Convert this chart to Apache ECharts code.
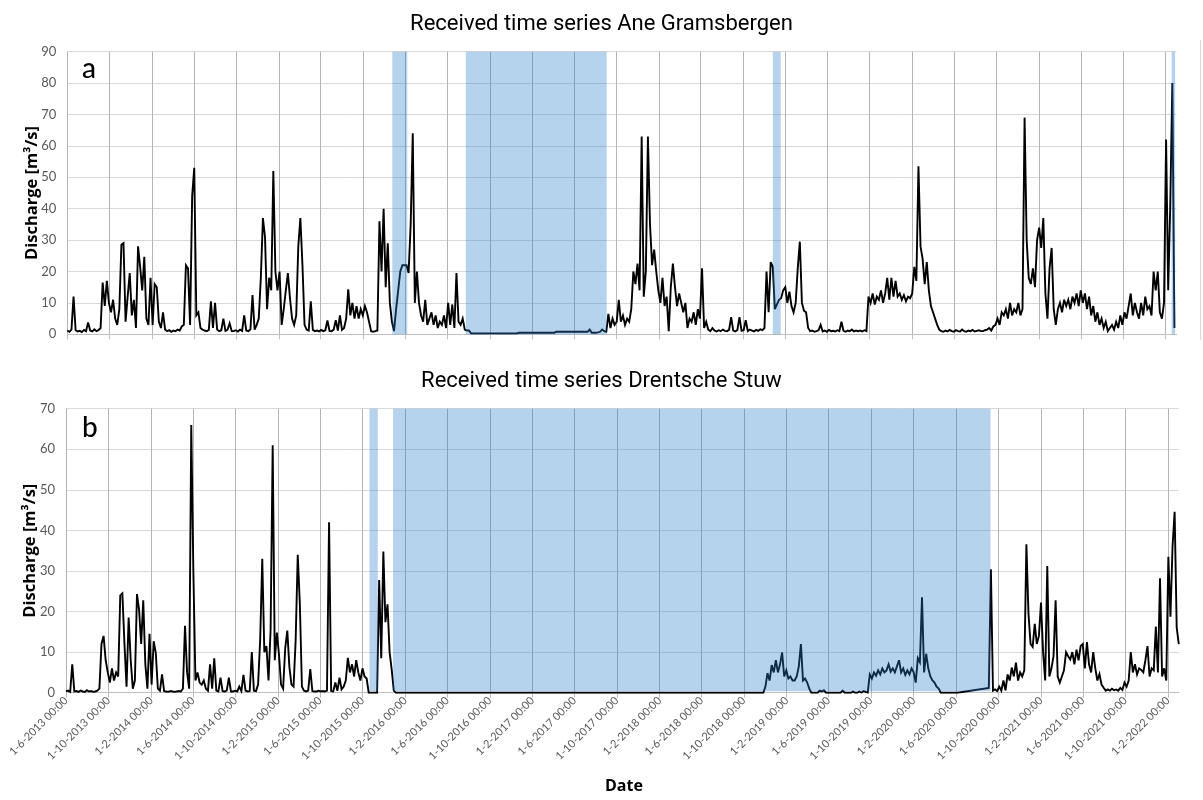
<!DOCTYPE html>
<html>
<head>
<meta charset="utf-8">
<script src="https://cdn.jsdelivr.net/npm/echarts@6/dist/echarts.min.js"></script>
<style>
  html, body { margin: 0; padding: 0; background: #fff; }
  #chart { width: 1203px; height: 800px; }
</style>
</head>
<body>
<div id="chart"></div>
<script>
// Panel titles and letters
const titles = ['Received time series Ane Gramsbergen', 'Received time series Drentsche Stuw'];
const panelLetters = ['a', 'b'];
const yName = 'Discharge [m³/s]';
const xName = 'Date';

// Time base of the received series: one value every 6 days
const startDate = '2013-06-01';
const endDate = '2022-03-04';
const stepDays = 6;

// Major date ticks (every 4 months)
const tickDates = [
  '2013-06-01', '2013-10-01', '2014-02-01', '2014-06-01', '2014-10-01', '2015-02-01',
  '2015-06-01', '2015-10-01', '2016-02-01', '2016-06-01', '2016-10-01', '2017-02-01',
  '2017-06-01', '2017-10-01', '2018-02-01', '2018-06-01', '2018-10-01', '2019-02-01',
  '2019-06-01', '2019-10-01', '2020-02-01', '2020-06-01', '2020-10-01', '2021-02-01',
  '2021-06-01', '2021-10-01', '2022-02-01'
];

// Discharge Ane Gramsbergen [m3/s]
const aneGramsbergenQ = [
  1.2, 0.8, 1.5, 12, 1.3, 0.9, 1.1, 0.7, 1.4, 1.0, 3.8, 1.2, 0.9, 1.6, 1.0, 1.3, 2.0, 16.5, 9, 17,
  10, 7, 11, 5, 3, 8, 28.5, 29, 4, 12, 19.5, 6, 11, 2, 28, 21.5, 14, 24.7, 5, 3,
  18, 3, 16, 15, 4, 2, 7, 1.5, 1.0, 1.3, 0.8, 1.2, 1.0, 1.5, 1.2, 2.5, 3, 22, 21, 3,
  44, 53, 6, 7, 2, 1.5, 1.2, 1.0, 1.4, 10.5, 2, 10, 1.5, 1.0, 1.3, 5, 1.1, 1.4, 3.5, 1.0,
  1.0, 1.3, 0.9, 1.5, 1.1, 6, 1.2, 1.0, 1.6, 12.5, 1.5, 3, 5, 18, 37, 31, 8, 18, 14, 52,
  20, 14, 20, 3, 8, 14, 19.5, 11.5, 5, 3, 6, 28, 37, 22, 3, 1.5, 1.2, 10.5, 1.4, 1.0,
  1.2, 0.9, 1.4, 1.0, 1.3, 4.4, 1.1, 1.0, 1.5, 4.5, 1.2, 6, 1.4, 2, 5, 14.3, 6, 10, 5, 9,
  5, 8, 6, 9, 7, 4, 1.0, 0.8, 1.0, 1.2, 36, 20, 40, 15, 29, 10, 4, 1, 8, 14,
  20, 22, 22, 22, 19.5, 35, 64, 10, 20, 10, 6, 4, 11, 3, 5, 7, 3, 6, 2, 4,
  3, 6, 2, 10, 3, 9.5, 2, 19.5, 4, 3, 5, 1.5, 1.2, 1.2, 0.3, 0.3, 0.3, 0.3, 0.3, 0.3,
  0.3, 0.3, 0.3, 0.3, 0.3, 0.3, 0.3, 0.3, 0.3, 0.3, 0.3, 0.3, 0.3, 0.3, 0.3, 0.3, 0.3, 0.5, 0.5, 0.5,
  0.5, 0.5, 0.5, 0.5, 0.5, 0.5, 0.5, 0.5, 0.5, 0.5, 0.5, 0.5, 0.5, 0.5, 0.5, 0.8, 0.8, 0.8, 0.8, 0.8,
  0.8, 0.8, 0.8, 0.8, 0.8, 0.8, 0.8, 0.8, 0.8, 0.8, 0.8, 1.5, 0.5, 0.5, 0.5, 0.6, 0.8, 1.5, 1.0, 0.8,
  6.5, 2, 5, 3, 4, 11, 4, 6, 3, 5, 4, 8, 20, 16, 22.5, 14, 63, 12, 20, 63,
  35, 22, 27, 20, 14, 10, 18, 9, 12, 1, 15, 22.5, 15, 9, 13, 10, 7, 10, 2, 5,
  4, 7, 3, 8, 5, 21, 2, 4, 1.5, 1.0, 2, 1.2, 0.9, 1.3, 1.0, 1.5, 1.1, 1.0, 1.4, 5.5,
  1.2, 0.9, 1.4, 5.5, 1.1, 1.3, 4.5, 1.0, 1.5, 1.2, 0.9, 1.4, 1.1, 1.6, 1.3, 2, 20, 7, 23, 21.5,
  8, 9.5, 11, 11.5, 14, 15, 10, 13.6, 9, 7, 10, 21, 29.5, 10, 7.5, 7, 2, 1.0, 1.2, 0.8,
  1.0, 1.3, 3, 0.9, 1.2, 0.8, 1.4, 1.0, 1.1, 0.9, 1.3, 1.0, 4, 1.1, 0.8, 1.2, 1.0, 1.5, 0.9, 1.2,
  1.0, 1.2, 0.9, 1.3, 1.0, 12, 10, 13, 9.5, 12, 11, 14, 10, 13, 18, 11, 18, 12, 17, 12,
  13, 11, 12.5, 10.5, 12, 11.5, 13, 21.5, 17, 53.5, 28, 24, 16, 23, 14, 9, 7, 5, 3, 1.5,
  1.0, 0.8, 1.2, 0.9, 1.4, 1.0, 0.8, 1.3, 1.0, 0.9, 1.5, 1.0, 0.8, 1.2, 1.0, 1.4, 0.9, 1.1, 1.3, 1.0,
  1.0, 1.3, 1.5, 2, 1.2, 2.5, 3, 5, 3, 7, 6, 8, 5, 10, 6, 8, 7, 10, 6, 8,
  69, 30, 18, 16, 21, 15, 30, 34, 27.5, 37, 13, 5, 21, 27.5, 8, 3, 8, 10, 7, 11,
  9, 11, 8, 12, 10, 13, 9, 14, 10, 13, 8, 12, 6, 9, 4, 7, 3, 5, 2, 4,
  1.0, 2, 3, 1.5, 4, 2, 6, 3, 7, 5, 9, 13, 6, 10, 7, 5, 10, 6, 12, 8,
  9, 6, 20, 14, 20, 7, 5, 10, 62, 14, 41, 80, 2
];

// Discharge Drentsche Stuw [m3/s]; null marks a stretch bridged by a straight segment
const drentscheStuwQ = [
  0.3, 0.5, 0.2, 7, 0.3, 0.4, 0.2, 0.5, 0.3, 0.2, 0.6, 0.3, 0.4, 0.2, 0.3, 0.5, 1, 12, 14, 8,
  5, 2.5, 6, 3, 5, 4, 24, 24.5, 12, 1.5, 18.5, 8, 1, 3, 24.3, 20.5, 12, 22.8, 7, 1,
  14.5, 2, 12.7, 9.8, 1, 0.5, 4.5, 0.4, 0.3, 0.2, 0.4, 0.3, 0.2, 0.3, 0.4, 0.3, 1, 16.5, 5, 1,
  66, 30, 3, 5, 2.5, 2, 3, 1, 0.5, 7, 1, 8.5, 0.5, 0.3, 3.7, 0.4, 0.3, 0.5, 3.7, 0.3,
  0.3, 0.5, 0.3, 1.5, 0.4, 4.4, 0.5, 0.3, 0.4, 10, 0.5, 0.4, 2, 13, 33, 10, 11.5, 3, 15.5, 61,
  8, 14.8, 9.5, 2, 1, 11, 15.3, 6.3, 2, 1.5, 13, 34, 22, 1.5, 0.5, 0.3, 0.5, 5.8, 0.4, 0.3,
  0.3, 0.5, 0.3, 0.4, 0.3, 0.5, 42, 0.4, 0.3, 2.5, 0.5, 3.7, 0.8, 1.5, 3, 8.6, 5, 7, 4, 8,
  5, 3, 6, 4, 3.5, 0, 0, 0, 0, 0, 27.8, 8.5, 34.8, 17.4, 21.8, 10, 5.7, 0.5, 0, 0,
  0, 0, 0, 0, 0, 0, 0, 0, 0, 0, 0, 0, 0, 0, 0, 0, 0, 0, 0, 0,
  0, 0, 0, 0, 0, 0, 0, 0, 0, 0, 0, 0, 0, 0, 0, 0, 0, 0, 0, 0,
  0, 0, 0, 0, 0, 0, 0, 0, 0, 0, 0, 0, 0, 0, 0, 0, 0, 0, 0, 0,
  0, 0, 0, 0, 0, 0, 0, 0, 0, 0, 0, 0, 0, 0, 0, 0, 0, 0, 0, 0,
  0, 0, 0, 0, 0, 0, 0, 0, 0, 0, 0, 0, 0, 0, 0, 0, 0, 0, 0, 0,
  0, 0, 0, 0, 0, 0, 0, 0, 0, 0, 0, 0, 0, 0, 0, 0, 0, 0, 0, 0,
  0, 0, 0, 0, 0, 0, 0, 0, 0, 0, 0, 0, 0, 0, 0, 0, 0, 0, 0, 0,
  0, 0, 0, 0, 0, 0, 0, 0, 0, 0, 0, 0, 0, 0, 0, 0, 0, 0, 0, 0,
  0, 0, 0, 0, 0, 0, 0, 0, 0, 0, 0, 0, 0, 0, 0, 1.5, 4.8, 3, 6.8, 5,
  8, 5, 7, 9.9, 4, 5.5, 3.5, 4, 3, 3, 4, 6.5, 12, 3, 3.5, 2.5, 1, 0, 0, 0,
  0, 0.5, 0.3, 0.6, 0, 0, 0, 0, 0, 0, 0, 0, 0.5, 0, 0, 0, 0, 0.3, 0, 0,
  0.3, 0, 0.4, 0.2, 0, 4.5, 3.5, 5, 4.2, 5.5, 4.5, 6, 5, 5.5, 7, 5.2, 6, 5, 6.5, 8,
  5, 6, 4.4, 5.5, 4.5, 6, 5, 2.5, 8.5, 7.5, 23.5, 5, 9.6, 6, 4, 3, 2.5, 1.5, 1, 0,
  0, 0, 0, 0, 0, 0, 0, 0, null, null, null, null, null, null, null, null, null, null, null, null,
  null, null, 1.2, 30.4, 0.5, 0.8, 0.4, 1.5, 0.5, 3, 0.6, 4.5, 3, 6.2, 4, 7.4, 3, 5, 4, 5.5,
  36.6, 19.5, 12, 11.3, 17, 12, 14, 22.2, 10, 3, 31.2, 4, 6, 9, 22.8, 4, 2.5, 4, 5.5, 10,
  9, 8.2, 10, 7, 10.6, 8, 11.5, 12, 6, 12.5, 7, 5, 10, 6, 3, 4.6, 2, 1.2, 0.5, 0.8,
  0.5, 1, 0.6, 0.8, 0.5, 1.2, 0.7, 2.5, 1.5, 3, 10, 5, 7, 4.5, 6, 5.6, 5, 8, 11.5, 4,
  6, 5.5, 16.3, 5, 28.2, 4, 6, 3, 33.5, 18.7, 36, 44.6, 16, 12
];

// Periods without received data (shaded)
const aneGaps = [
  ['2015-12-25', '2016-02-06'],
  ['2016-07-24', '2017-09-03'],
  ['2018-12-26', '2019-01-18'],
  ['2022-02-18', '2022-02-28']
];
const drentscheGaps = [
  ['2015-10-21', '2015-11-14'],
  ['2015-12-28', '2020-09-09']
];

const yMax = [90, 70];

// ---------------------------------------------------------------
const toTime = s => {
  const [y, m, d] = s.split('-').map(Number);
  return new Date(y, m - 1, d).getTime();
};
const toSeries = values => {
  const [y, m, d] = startDate.split('-').map(Number);
  return values.map((v, i) => [new Date(y, m - 1, d + i * stepDays).getTime(), v]);
};
const tickValues = tickDates.map(toTime);
const formatTick = v => {
  const d = new Date(v);
  return d.getDate() + '-' + (d.getMonth() + 1) + '-' + d.getFullYear() + ' 00:00';
};

const gapFill = 'rgba(38,126,203,0.34)';
const labelFont = 'Lato, "Open Sans", sans-serif';
const nameFont = '"Open Sans", Lato, sans-serif';

// Dates are plotted as millisecond timestamps on a numeric axis so the
// 4-monthly ticks can be placed exactly on the first of the month.
function makeXAxis(gridIndex, showLabels) {
  return {
    type: 'value',
    gridIndex,
    min: toTime(startDate),
    max: toTime(endDate),
    axisLine: { show: true, onZero: false, lineStyle: { color: '#bfbfbf', width: 1 } },
    axisTick: { show: true, customValues: tickValues, length: 5, lineStyle: { color: '#bfbfbf' } },
    axisLabel: {
      show: showLabels, customValues: tickValues, formatter: formatTick,
      rotate: 45, fontSize: 11, color: '#595959', fontFamily: labelFont, margin: 6
    },
    splitLine: { show: true, lineStyle: { color: '#b4b4b4', width: 1 } }
  };
}

function makeYAxis(gridIndex, max) {
  return {
    type: 'value',
    gridIndex,
    min: 0,
    max,
    interval: 10,
    name: yName,
    nameLocation: 'middle',
    nameGap: 27,
    nameMoveOverlap: false,
    nameTextStyle: { fontFamily: nameFont, fontWeight: 'bold', fontSize: 16.5, color: '#000' },
    axisLine: { show: false },
    axisTick: { show: false },
    axisLabel: { color: '#595959', fontSize: 13, fontFamily: labelFont, margin: 11 },
    splitLine: { lineStyle: { color: '#d9d9d9', width: 1 } }
  };
}

function gapRenderer(lift) {
  return function (params, api) {
    const a = api.coord([api.value(0), 0]);
    const b = api.coord([api.value(1), 0]);
    const cs = params.coordSys;
    return {
      type: 'rect',
      shape: { x: a[0], y: cs.y, width: b[0] - a[0], height: cs.height - lift },
      style: { fill: gapFill }
    };
  };
}

function lineSeries(idx, values) {
  return {
    type: 'line',
    xAxisIndex: idx,
    yAxisIndex: idx,
    data: toSeries(values),
    symbol: 'none',
    showSymbol: false,
    connectNulls: true,
    lineStyle: { color: '#000', width: 1.9, join: 'miter', miterLimit: 4 },
    z: 2,
    silent: true
  };
}

function gapSeries(idx, gaps, lift) {
  return {
    type: 'custom',
    xAxisIndex: idx,
    yAxisIndex: idx,
    data: gaps.map(g => [toTime(g[0]), toTime(g[1])]),
    encode: { x: [0, 1] },
    renderItem: gapRenderer(lift),
    z: 3,
    silent: true
  };
}

const titleStyle = { fontFamily: 'Roboto', fontSize: 22, fontWeight: 'normal', color: '#000' };

const chart = echarts.init(document.getElementById('chart'), null, { renderer: 'canvas' });
chart.setOption({
  animation: false,
  backgroundColor: '#fff',
  title: [
    { text: titles[0], left: 'center', top: 8, textStyle: titleStyle },
    { text: titles[1], left: 'center', top: 365, textStyle: titleStyle }
  ],
  grid: [
    { left: 67.3, top: 51.7, width: 1109.2, height: 282.6, containLabel: false, outerBoundsMode: 'none' },
    { left: 66, top: 408.7, width: 1112.8, height: 284, containLabel: false, outerBoundsMode: 'none' }
  ],
  xAxis: [makeXAxis(0, false), makeXAxis(1, true)],
  yAxis: [makeYAxis(0, yMax[0]), makeYAxis(1, yMax[1])],
  series: [
    lineSeries(0, aneGramsbergenQ),
    gapSeries(0, aneGaps, 0),
    lineSeries(1, drentscheStuwQ),
    gapSeries(1, drentscheGaps, 1.5)
  ],
  graphic: [
    { type: 'text', left: 82, top: 55, style: { text: panelLetters[0], font: '500 28px Lato, sans-serif', fill: '#000' } },
    { type: 'text', left: 82, top: 414, style: { text: panelLetters[1], font: '500 28px Lato, sans-serif', fill: '#000' } },
    { type: 'text', left: 605, top: 778, style: { text: xName, font: 'bold 16px "Open Sans", Lato, sans-serif', fill: '#000' } },
    { type: 'line', shape: { x1: 1200.5, y1: 40, x2: 1200.5, y2: 340 }, style: { stroke: '#d9d9d9', lineWidth: 1 } }
  ]
});
</script>
</body>
</html>
